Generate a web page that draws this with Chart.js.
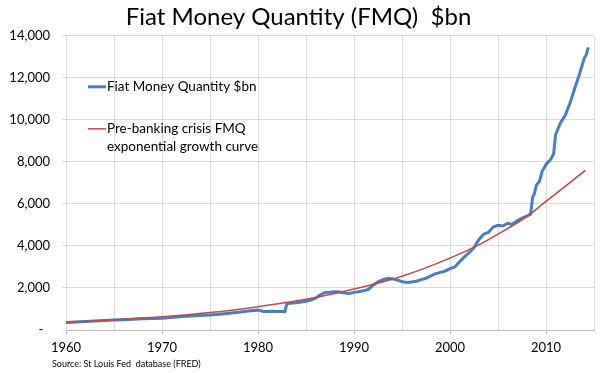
<!DOCTYPE html>
<html>
<head>
<meta charset="utf-8">
<script src="https://cdn.jsdelivr.net/npm/chart.js@4.4.1/dist/chart.umd.min.js"></script>
<style>
  html, body { margin: 0; padding: 0; background: #ffffff; }
  #wrap { width: 600px; height: 373px; position: relative; }
</style>
</head>
<body>
<div id="wrap"><canvas id="c"></canvas></div>
<script>
// ---------- data ----------
const fmqYears = [
  1960.0, 1961.0, 1962.0, 1963.0, 1964.0, 1965.0, 1966.0, 1967.0, 1968.0, 1969.0,
  1970.0, 1971.0, 1972.0, 1973.0, 1974.0, 1975.0, 1976.0, 1977.0, 1978.0, 1979.0,
  1980.0, 1980.6, 1981.5, 1982.0, 1982.8, 1983.0, 1983.3, 1984.0, 1985.0, 1985.5,
  1986.0, 1986.5, 1987.0, 1987.5, 1988.0, 1988.5, 1989.0, 1989.5, 1990.0, 1990.5,
  1991.0, 1991.5, 1992.0, 1992.5, 1993.0, 1993.5, 1994.0, 1994.5, 1995.0, 1995.5,
  1996.0, 1996.5, 1997.0, 1997.5, 1998.0, 1998.5, 1999.0, 1999.5, 2000.0, 2000.5,
  2001.0, 2001.5, 2002.0, 2002.5, 2003.0, 2003.5, 2004.0, 2004.5, 2005.0, 2005.5,
  2006.0, 2006.5, 2007.0, 2007.5, 2008.0, 2008.4, 2008.6, 2008.8, 2009.0, 2009.3,
  2009.6, 2010.0, 2010.5, 2010.8, 2011.0, 2011.5, 2012.0, 2012.5, 2013.0, 2013.5,
  2014.0, 2014.2, 2014.4
];
const fmqValues = [
  355, 375, 400, 425, 450, 470, 485, 510, 535, 550,
  565, 600, 640, 665, 690, 715, 750, 800, 850, 900,
  945, 880, 890, 880, 875, 1230, 1270, 1300, 1370, 1430,
  1510, 1680, 1790, 1800, 1820, 1810, 1760, 1740, 1790, 1820,
  1870, 1930, 2130, 2290, 2400, 2450, 2440, 2380, 2300, 2260,
  2280, 2320, 2400, 2460, 2580, 2680, 2740, 2800, 2920, 3000,
  3250, 3480, 3680, 3920, 4300, 4560, 4640, 4900, 4980, 4950,
  5080, 5030, 5200, 5330, 5420, 5520, 6300, 6500, 6900, 7050,
  7550, 7880, 8120, 8400, 9300, 9850, 10200, 10800, 11500, 12200,
  12950, 13100, 13450
];
const curveYears  = [1960, 1965, 1970, 1975, 1980, 1985, 1990, 1995, 2000, 2003, 2005, 2008, 2010, 2012, 2014.1];
const curveValues = [ 360,  490,  630,  830, 1110, 1460, 1950, 2560, 3420, 4050, 4560, 5400, 6120, 6840, 7590];

const seriesNames = ['Fiat Money Quantity $bn', 'Pre-banking crisis FMQ exponential growth curve'];
const legendLines = [['Fiat Money Quantity $bn'], ['Pre-banking crisis FMQ', 'exponential growth curve']];
const xTickLabels = ['1960', '1970', '1980', '1990', '2000', '2010'];
const yTickLabels = ['-  ', '2,000', '4,000', '6,000', '8,000', '10,000', '12,000', '14,000'];
const chartTitle = 'Fiat Money Quantity (FMQ)  $bn';
const sourceNote = 'Source: St Louis Fed  database (FRED)';

// ---------- chart ----------
const FONT = 'Lato, "Open Sans", sans-serif';
const BLUE = '#4A7EBB';
const RED = '#BE4B48';
const GRID = '#d9d9d9';

const toPoints = (xs, ys) => xs.map((x, i) => ({ x: x, y: ys[i] }));

const overlayPlugin = {
  id: 'overlay',
  afterDraw(chart) {
    const ctx = chart.ctx;
    const a = chart.chartArea;
    ctx.save();
    // legend inside the plot area
    const colors = [BLUE, RED];
    const widths = [3, 1.5];
    const rowsY = [a.top + 51, a.top + 93];
    ctx.font = '13.5px ' + FONT;
    ctx.fillStyle = '#000';
    ctx.textBaseline = 'middle';
    ctx.textAlign = 'left';
    legendLines.forEach((lines, i) => {
      const y = rowsY[i];
      ctx.strokeStyle = colors[i];
      ctx.lineWidth = widths[i];
      ctx.beginPath();
      ctx.moveTo(a.left + 22, y);
      ctx.lineTo(a.left + 40, y);
      ctx.stroke();
      lines.forEach((t, j) => ctx.fillText(t, a.left + 41, y + j * 18));
    });
    // source note
    ctx.font = '9px ' + FONT;
    ctx.fillText(sourceNote, 52, 364);
    ctx.restore();
  }
};

new Chart(document.getElementById('c'), {
  type: 'line',
  data: {
    datasets: [
      {
        label: seriesNames[0],
        data: toPoints(fmqYears, fmqValues),
        borderColor: BLUE,
        borderWidth: 3,
        pointRadius: 0,
        tension: 0,
        order: 1
      },
      {
        label: seriesNames[1],
        data: toPoints(curveYears, curveValues),
        borderColor: RED,
        borderWidth: 1.6,
        pointRadius: 0,
        cubicInterpolationMode: 'monotone',
        order: 0
      }
    ]
  },
  options: {
    responsive: true,
    maintainAspectRatio: false,
    animation: false,
    events: [],
    layout: { padding: { left: 0, right: 3, top: 0, bottom: 0 } },
    plugins: {
      legend: { display: false },
      tooltip: { enabled: false },
      title: {
        display: true,
        text: chartTitle,
        color: '#000',
        font: { family: FONT, size: 24, weight: 'normal', lineHeight: 1.2 },
        padding: { top: 3, bottom: 4 }
      }
    },
    scales: {
      x: {
        type: 'linear',
        min: 1960,
        max: 2015,
        afterFit(s) { s.height = 43; },
        border: { color: '#bfbfbf', width: 1 },
        grid: {
          color: GRID,
          lineWidth: 1,
          drawTicks: true,
          tickLength: 4,
          tickColor: (c) => (c.tick && c.tick.value % 10 === 0) ? '#bfbfbf' : 'rgba(0,0,0,0)'
        },
        ticks: {
          stepSize: 5,
          autoSkip: false,
          maxRotation: 0,
          padding: 6,
          color: '#000',
          font: { family: FONT, size: 13 },
          callback: (v) => (v % 10 === 0) ? xTickLabels[(v - 1960) / 10] : ''
        }
      },
      y: {
        min: 0,
        max: 14000,
        afterFit(s) { s.width = 66; },
        border: { color: GRID, width: 1 },
        grid: { color: GRID, lineWidth: 1, tickLength: 4, tickColor: GRID },
        ticks: {
          stepSize: 2000,
          padding: 12,
          color: '#000',
          font: { family: FONT, size: 13 },
          callback: (v) => yTickLabels[v / 2000]
        }
      }
    }
  },
  plugins: [overlayPlugin]
});
</script>
</body>
</html>
